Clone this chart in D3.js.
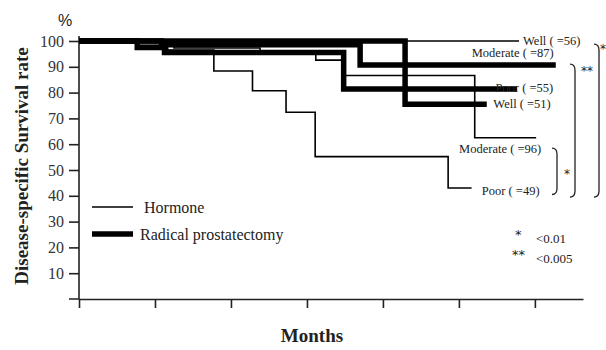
<!DOCTYPE html>
<html>
<head>
<meta charset="utf-8">
<script src="https://cdn.jsdelivr.net/npm/d3@7"></script>
<style>
  body { margin: 0; background: #fff; }
  svg { display: block; }
  text { font-family: "Liberation Serif", "Times New Roman", serif; fill: #222; }
  .axis path, .axis line { stroke: #222; stroke-width: 1.6; }
</style>
</head>
<body>
<div id="chart"></div>
<script>
// step data: [month, survival %]
var hormoneWell     = [[0, 100], [69.5, 100]];
var hormoneModerate = [[0, 100], [9.2, 98.3], [15, 97.3], [28.6, 95.7], [37.4, 92.6], [42, 86.6], [62.5, 62.5], [72.2, 62.5]];
var hormonePoor     = [[0, 100], [9.2, 98], [14, 96.5], [21.3, 88.4], [27.4, 80.7], [32.7, 72.4], [37.3, 55.2], [58.3, 43], [62, 43]];
var rpWell          = [[0, 100], [51.5, 75.5], [64.4, 75.5]];
var rpModerate      = [[0, 100], [13, 98.5], [44.4, 90.7], [75.3, 90.7]];
var rpPoor          = [[0, 100], [9.2, 97.5], [13.5, 95.5], [41.8, 81.4], [69.2, 81.4]];

var yTicks = [10, 20, 30, 40, 50, 60, 70, 80, 90, 100];
var xTicks = [0, 12, 24, 36, 48, 60, 72];
var seriesLabels = ["Well ( =56)", "Moderate ( =87)", "Poor ( =55)", "Well ( =51)", "Moderate ( =96)", "Poor ( =49)"];
var legendLabels = ["Hormone", "Radical prostatectomy"];
var pLabels = ["<0.01", "<0.005"];

var svgWidth = 606, svgHeight = 350;
var margin = { top: 41, right: 23, bottom: 51, left: 79 };
var width = svgWidth - margin.left - margin.right;

var svg = d3.select("#chart").append("svg")
    .attr("width", svgWidth)
    .attr("height", svgHeight);

var g = svg.append("g")
    .attr("transform", "translate(" + margin.left + "," + margin.top + ")");

var x = d3.scaleLinear().domain([0, 79.6]).range([0, width]);
// y=0 sits on the x-axis line
var y = d3.scaleLinear().domain([0, 100]).range([258, 0]);

// axes
var xAxis = d3.axisBottom(x).tickValues(xTicks).tickFormat("").tickSize(9).tickSizeOuter(0);
var yAxis = d3.axisLeft(y).tickValues(yTicks).tickSize(10).tickSizeOuter(0).tickPadding(5);

g.append("g")
    .attr("class", "x axis")
    .attr("transform", "translate(0," + y(0) + ")")
    .call(xAxis);

var ya = g.append("g")
    .attr("class", "y axis")
    .call(yAxis);
ya.select(".domain").attr("d", "M-10," + y(0) + "H0V" + (y(100) - 5));
ya.selectAll(".tick text").style("font-size", "16px").style("fill", "#333");

// curves
var line = d3.line()
    .x(function(d) { return x(d[0]); })
    .y(function(d) { return y(d[1]); })
    .curve(d3.curveStepAfter);

var curves = [
    { data: rpWell, w: 5.5 },
    { data: rpModerate, w: 5.5 },
    { data: rpPoor, w: 5.5 },
    { data: hormoneWell, w: 1.6 },
    { data: hormoneModerate, w: 1.6 },
    { data: hormonePoor, w: 1.6 }
];

g.selectAll(".curve").data(curves).enter().append("path")
    .attr("class", "curve")
    .attr("d", function(d) { return line(d.data); })
    .attr("fill", "none")
    .attr("stroke", "#000")
    .attr("stroke-width", function(d) { return d.w; })
    .attr("stroke-linejoin", "miter");

// series labels (placed near curve ends)
var labelPos = [
    { x: x(69.5) + 4, y: y(100) + 4, anchor: "start" },
    { x: x(75.3) - 2, y: y(90.7) - 8, anchor: "end" },
    { x: x(69.2) + 36, y: y(81.4) + 3, anchor: "end" },
    { x: x(64.4) + 64, y: y(75.5) + 4, anchor: "end" },
    { x: x(72.2) + 5, y: y(62.5) + 15, anchor: "end" },
    { x: x(62) + 68, y: y(43) + 7, anchor: "end" }
];
g.selectAll(".slabel").data(seriesLabels).enter().append("text")
    .attr("class", "slabel")
    .attr("x", function(d, i) { return labelPos[i].x; })
    .attr("y", function(d, i) { return labelPos[i].y; })
    .attr("text-anchor", function(d, i) { return labelPos[i].anchor; })
    .style("font-size", "12.5px")
    .text(function(d) { return d; });

// significance brackets
function bracket(bx, top, bottom) {
    return "M" + (bx - 5) + "," + top +
        "Q" + bx + "," + top + " " + bx + "," + (top + 6) +
        "V" + (bottom - 6) +
        "Q" + bx + "," + bottom + " " + (bx - 5) + "," + bottom;
}
var brackets = [
    { bx: 478, top: y(58.5), bottom: y(40.5), mark: "*", mx: 485, my: y(50) },
    { bx: 496, top: y(91), bottom: y(39.5), mark: "**", mx: 502, my: y(90) },
    { bx: 520, top: y(98.8), bottom: y(39.5), mark: "*", mx: 521, my: y(98.5) }
];
g.selectAll(".bracket").data(brackets).enter().append("path")
    .attr("class", "bracket")
    .attr("d", function(d) { return bracket(d.bx, d.top, d.bottom); })
    .attr("fill", "none")
    .attr("stroke", "#222")
    .attr("stroke-width", 1.3);
g.selectAll(".bmark").data(brackets).enter().append("text")
    .attr("class", "bmark")
    .attr("x", function(d) { return d.mx; })
    .attr("y", function(d) { return d.my + 8; })
    .style("font-family", "'DejaVu Sans', sans-serif")
    .style("font-size", "12px")
    .text(function(d) { return d.mark; });

// p-value key
var keyMarks = ["*", "**"];
keyMarks.forEach(function(m, i) {
    g.append("text")
        .attr("x", 436 + (i ? -3 : 0))
        .attr("y", 198 + i * 20)
        .style("font-family", "'DejaVu Sans', sans-serif")
        .style("font-size", "13px")
        .text(m);
    g.append("text")
        .attr("x", 457)
        .attr("y", 202 + i * 20)
        .style("font-size", "13px")
        .text(pLabels[i]);
});

// legend
var legend = g.append("g").attr("transform", "translate(13,166)");
legendLabels.forEach(function(lbl, i) {
    legend.append("line")
        .attr("x1", 0).attr("x2", 41)
        .attr("y1", i * 27).attr("y2", i * 27)
        .attr("stroke", "#000")
        .attr("stroke-width", i ? 5.5 : 1.6);
    legend.append("text")
        .attr("x", i ? 48 : 52)
        .attr("y", i * 27 + 6)
        .style("font-size", "16px")
        .text(lbl);
});

// axis labels
svg.append("text")
    .attr("x", 65).attr("y", 26)
    .attr("text-anchor", "middle")
    .style("font-family", "'Liberation Sans', Arial, sans-serif")
    .style("font-size", "16px")
    .text("%");

svg.append("text")
    .attr("transform", "translate(28,166) rotate(-90)")
    .attr("text-anchor", "middle")
    .style("font-size", "19px")
    .style("font-weight", "bold")
    .text("Disease-specific Survival rate");

svg.append("text")
    .attr("x", 312).attr("y", 342)
    .attr("text-anchor", "middle")
    .style("font-size", "19px")
    .style("font-weight", "bold")
    .text("Months");
</script>
</body>
</html>
